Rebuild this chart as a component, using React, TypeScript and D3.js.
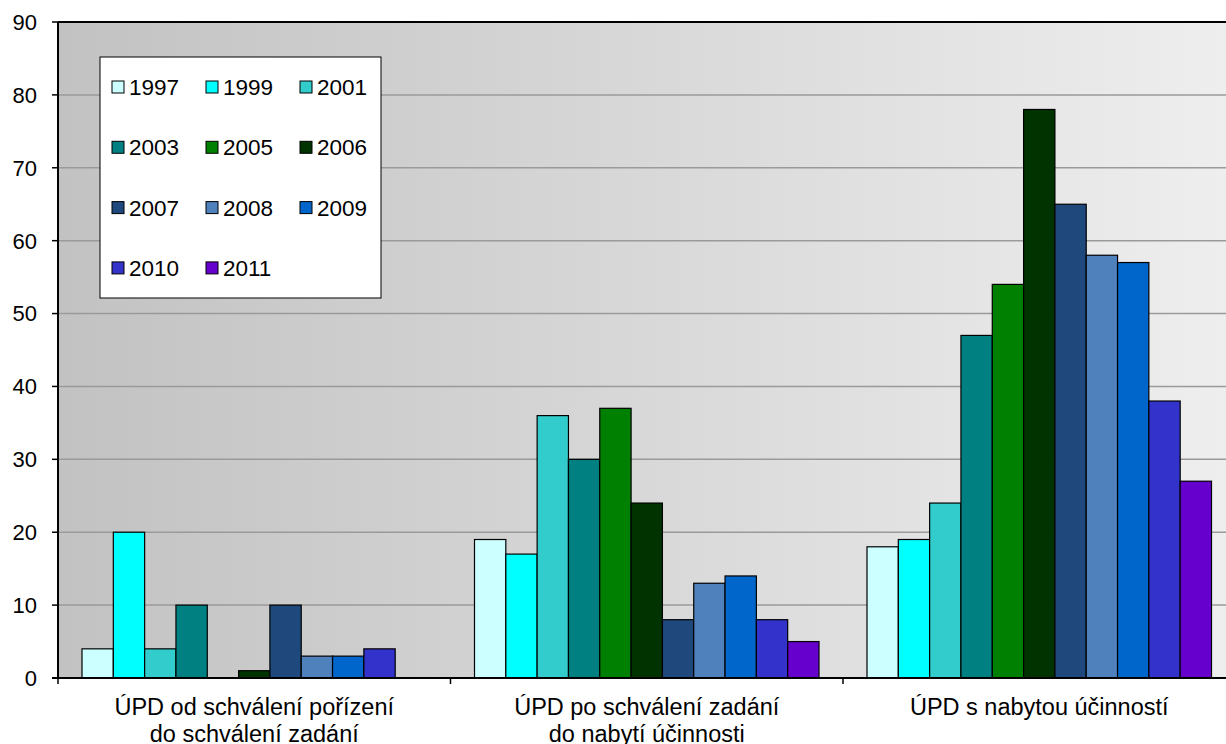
import React from 'react'
import * as d3 from 'd3'

const categories = [
  ['ÚPD od schválení pořízení', 'do schválení zadání'],
  ['ÚPD po schválení zadání', 'do nabytí účinnosti'],
  ['ÚPD s nabytou účinností'],
]
const years = ['1997', '1999', '2001', '2003', '2005', '2006', '2007', '2008', '2009', '2010', '2011']
const yearColors = ['#CCFFFF', '#00FFFF', '#33CCCC', '#008080', '#008000', '#003300', '#1F497D', '#4F81BD', '#0066CC', '#3333CC', '#6600CC']
// values per category, one per year
const values = [
  [4, 20, 4, 10, 0, 1, 10, 3, 3, 4, 0],
  [19, 17, 36, 30, 37, 24, 8, 13, 14, 8, 5],
  [18, 19, 24, 47, 54, 78, 65, 58, 57, 38, 27],
]
const yTicks = [0, 10, 20, 30, 40, 50, 60, 70, 80, 90]

const W = 1226
const H = 744
const left = 58
const top = 22
const bottom = 678
const catWidth = 392.5

export default function App() {
  const x0 = d3.scaleBand<number>()
    .domain(categories.map((_, i) => i))
    .range([left, left + catWidth * categories.length])
  const x1 = d3.scaleBand<string>()
    .domain(years)
    .range([24, catWidth - 24])
  const y = d3.scaleLinear().domain([0, 90]).range([bottom, top])

  const font = 'Arial, "Liberation Sans", sans-serif'

  return (
    <svg width={W} height={H} style={{ position: 'absolute', left: 0, top: 0, fontFamily: font }}>
      <defs>
        <linearGradient id="bg" x1="0" x2="1" y1="0" y2="0">
          <stop offset="0" stopColor="#c2c2c2" />
          <stop offset="1" stopColor="#eeeeee" />
        </linearGradient>
      </defs>
      <rect x={left} y={top} width={W - left} height={bottom - top} fill="url(#bg)" />

      {/* gridlines */}
      {yTicks.slice(1, -1).map(t => (
        <line key={t} x1={left} x2={W} y1={y(t)} y2={y(t)} stroke="#9a9a9a" strokeWidth={1.5} />
      ))}

      {/* bars */}
      {values.map((row, ci) => (
        <g key={ci} transform={`translate(${x0(ci)},0)`}>
          {row.map((v, yi) => (
            v > 0 ? (
              <rect key={yi}
                x={x1(years[yi])}
                y={y(v)}
                width={x1.bandwidth()}
                height={y(0) - y(v)}
                fill={yearColors[yi]}
                stroke="#000"
                strokeWidth={1.2} />
            ) : null
          ))}
        </g>
      ))}

      {/* frame / axes */}
      <line x1={left} x2={W} y1={top} y2={top} stroke="#000" strokeWidth={2} />
      <line x1={left} x2={left} y1={top} y2={bottom} stroke="#000" strokeWidth={2} />
      <line x1={left - 6} x2={W} y1={bottom} y2={bottom} stroke="#000" strokeWidth={2} />

      {yTicks.map(t => (
        <g key={t}>
          <line x1={left - 6} x2={left} y1={y(t)} y2={y(t)} stroke="#000" strokeWidth={1.5} />
          <text x={37} y={y(t)} dy="0.36em" textAnchor="end" fontSize={22} fill="#000">{t}</text>
        </g>
      ))}

      {categories.map((_, i) => (
        <line key={i} x1={x0(i)!} x2={x0(i)!} y1={bottom} y2={bottom + 6} stroke="#000" strokeWidth={1.5} />
      ))}

      {categories.map((lines, i) => (
        <text key={i} x={x0(i)! + catWidth / 2} y={715} textAnchor="middle" fontSize={23.5} fill="#000">
          {lines.map((l, k) => (
            <tspan key={k} x={x0(i)! + catWidth / 2} dy={k === 0 ? 0 : 27}>{l}</tspan>
          ))}
        </text>
      ))}

      {/* legend */}
      <rect x={100} y={57} width={281} height={241} fill="#fff" stroke="#000" strokeWidth={1} />
      {years.map((yr, i) => {
        const col = i % 3
        const row = Math.floor(i / 3)
        const lx = 112 + col * 94
        const ly = 87 + row * 60.3
        return (
          <g key={yr}>
            <rect x={lx} y={ly - 6} width={12} height={12} fill={yearColors[i]} stroke="#000" strokeWidth={1} />
            <text x={lx + 17} y={ly} dy="0.36em" fontSize={22.5} fill="#000">{yr}</text>
          </g>
        )
      })}
    </svg>
  )
}
